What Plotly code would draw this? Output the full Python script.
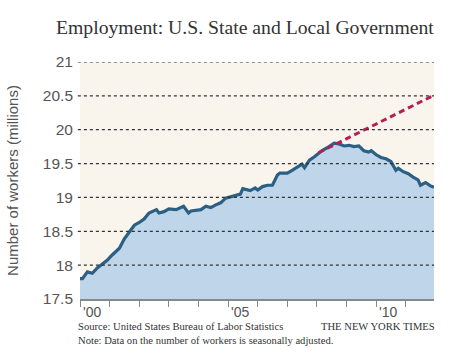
import plotly.graph_objects as go

# ---- data ----
dates = [
    "2000-01-01", "2000-02-01", "2000-04-01", "2000-06-01", "2000-08-01", "2000-10-01", "2000-12-01",
    "2001-02-01", "2001-05-01", "2001-07-01", "2001-09-01", "2001-11-01",
    "2002-01-01", "2002-03-01", "2002-05-01", "2002-08-01", "2002-09-01", "2002-11-01",
    "2003-01-01", "2003-04-01", "2003-07-01", "2003-09-01", "2003-10-01", "2003-12-01",
    "2004-02-01", "2004-04-01", "2004-06-01", "2004-08-01", "2004-10-01", "2004-12-01",
    "2005-02-01", "2005-04-01", "2005-06-01", "2005-07-01", "2005-08-01", "2005-10-01", "2005-12-01",
    "2006-01-01", "2006-03-01", "2006-05-01", "2006-07-01", "2006-09-01", "2006-10-01",
    "2007-01-01", "2007-03-01", "2007-05-01", "2007-07-01", "2007-08-01", "2007-10-01", "2007-12-01",
    "2008-02-01", "2008-03-01", "2008-05-01", "2008-08-01", "2008-10-01", "2008-12-01",
    "2009-02-01", "2009-04-01", "2009-06-01", "2009-08-01", "2009-10-01", "2009-11-01",
    "2010-01-01", "2010-03-01", "2010-05-01", "2010-07-01", "2010-09-01", "2010-10-01", "2010-12-01",
    "2011-02-01", "2011-04-01", "2011-06-01", "2011-07-01", "2011-09-01", "2011-11-01", "2011-12-15",
]
workers = [
    17.80, 17.80, 17.90, 17.88, 17.96, 18.01, 18.07,
    18.15, 18.25, 18.39, 18.49, 18.59,
    18.63, 18.68, 18.77, 18.82, 18.77, 18.79,
    18.83, 18.82, 18.87, 18.77, 18.80, 18.81,
    18.82, 18.87, 18.85, 18.89, 18.92, 18.99,
    19.01, 19.02, 19.05, 19.13, 19.12, 19.10, 19.14,
    19.11, 19.16, 19.18, 19.18, 19.33, 19.36,
    19.36, 19.40, 19.44, 19.49, 19.44, 19.55, 19.60,
    19.67, 19.69, 19.73, 19.80, 19.79, 19.76,
    19.77, 19.75, 19.76, 19.69, 19.67, 19.69,
    19.63, 19.59, 19.57, 19.53, 19.40, 19.43, 19.38,
    19.35, 19.30, 19.26, 19.18, 19.22, 19.17, 19.15,
]
trend_dates = ["2008-01-20", "2011-12-15"]
trend_values = [19.66, 20.51]

y_ticks = [17.5, 18, 18.5, 19, 19.5, 20, 20.5, 21]
y_tick_labels = ["17.5", "18", "18.5", "19", "19.5", "20", "20.5", "21"]
grid_values = [18, 18.5, 19, 19.5, 20, 20.5, 21]
year_ticks = [f"{y}-01-01" for y in range(2000, 2012)]
year_labels = {"2000-01-01": "'00", "2005-01-01": "'05", "2010-01-01": "'10"}

LINE = "#2b5f83"
FILL = "#bfd6ea"
BEIGE = "#f9f5ec"
RED = "#b81d55"
GRAY = "#555555"
SERIF = "Liberation Serif, Times New Roman, serif"
SANS = "Liberation Sans, Arial, sans-serif"

fig = go.Figure()
fig.add_trace(go.Scatter(
    x=dates, y=workers, mode="lines", fill="tozeroy", fillcolor=FILL,
    line=dict(color=LINE, width=3.2), hoverinfo="skip", showlegend=False,
))
fig.add_trace(go.Scatter(
    x=trend_dates, y=trend_values, mode="lines",
    line=dict(color=RED, width=3, dash="6px,4px"), hoverinfo="skip", showlegend=False,
))

shapes = []
for g in grid_values:
    shapes.append(dict(type="line", xref="paper", yref="y", x0=-0.006, x1=1, y0=g, y1=g,
                       line=dict(color="#333333", width=1.2, dash="dot"), layer="above"))

annotations = []
for d, t in year_labels.items():
    annotations.append(dict(x=d, y=0, xref="x", yref="paper", text=t, showarrow=False,
                            xanchor="left", yanchor="middle", xshift=2, yshift=-13, borderpad=0,
                            font=dict(family=SANS, size=14, color=GRAY)))
annotations += [
    dict(x=1, y=1, xref="paper", yref="paper", xanchor="right", yanchor="middle", yshift=35, xshift=2,
         text="Employment: U.S. State and Local Government", showarrow=False,
         font=dict(family=SERIF, size=19.7, color="#333333")),
    dict(x=0, y=0, xref="paper", yref="paper", xanchor="left", yanchor="middle", yshift=-27, xshift=-3,
         text="Source: United States Bureau of Labor Statistics", showarrow=False, borderpad=0,
         font=dict(family=SERIF, size=10.6, color="#333333")),
    dict(x=1, y=0, xref="paper", yref="paper", xanchor="right", yanchor="middle", yshift=-27, xshift=2,
         text="THE NEW YORK TIMES", showarrow=False, borderpad=0,
         font=dict(family=SERIF, size=10.6, color="#333333")),
    dict(x=0, y=0, xref="paper", yref="paper", xanchor="left", yanchor="middle", yshift=-41, xshift=-3,
         text="Note: Data on the number of workers is seasonally adjusted.", showarrow=False, borderpad=0,
         font=dict(family=SERIF, size=10.6, color="#333333")),
]

fig.update_layout(
    width=460, height=357,
    margin=dict(l=78, r=26, t=62, b=58),
    paper_bgcolor="white", plot_bgcolor=BEIGE,
    shapes=shapes, annotations=annotations,
    xaxis=dict(
        type="date", range=["2000-01-01", "2011-12-15"],
        tickvals=year_ticks, showticklabels=False,
        ticks="outside", ticklen=6, tickwidth=1.3, tickcolor="#888888",
        showline=True, linecolor="#888888", linewidth=2,
        showgrid=False, zeroline=False, fixedrange=True,
    ),
    yaxis=dict(
        range=[17.5, 21], tickvals=y_ticks, ticktext=y_tick_labels,
        showgrid=False, zeroline=False, ticks="", ticklabelstandoff=6,
        tickfont=dict(family=SANS, size=15.5, color=GRAY),
        title=dict(text="Number of workers (millions)", standoff=20,
                   font=dict(family=SANS, size=15, color=GRAY)),
        fixedrange=True,
    ),
)

fig.write_html("out.html", config={"displayModeBar": False},
               post_script="document.body.style.margin='0';")
